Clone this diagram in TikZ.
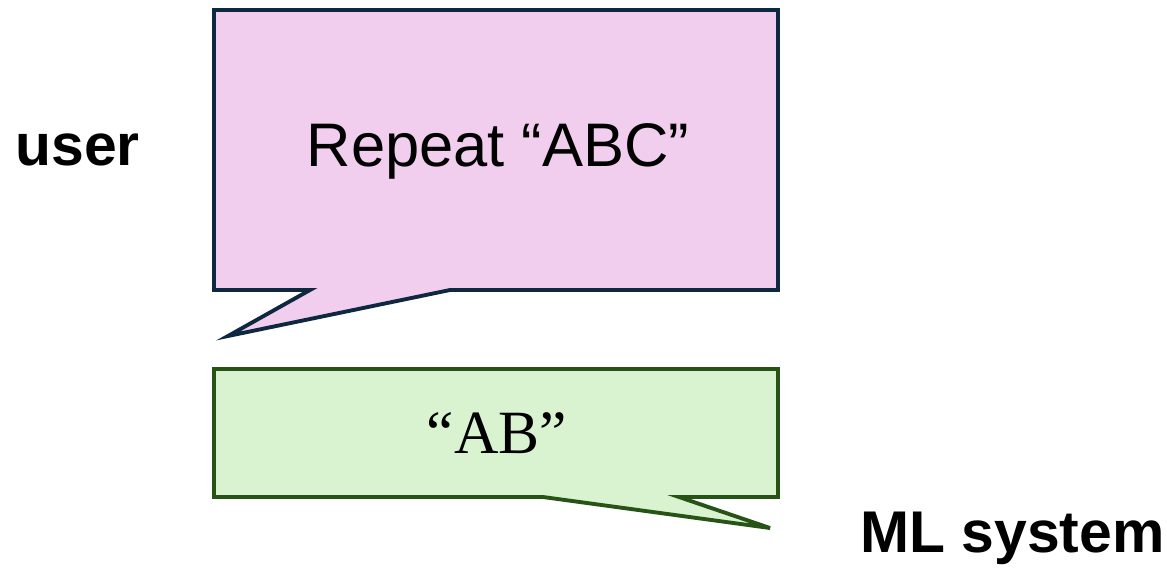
\documentclass[tikz,border=0pt]{standalone}
\usepackage{fontspec}
\setmainfont{Liberation Sans}
\newfontfamily\replyfont{Liberation Serif}
\usetikzlibrary{positioning}

\definecolor{promptfill}{HTML}{F2CEEE}
\definecolor{promptline}{HTML}{0E2841}
\definecolor{replyfill}{HTML}{D9F2D0}
\definecolor{replyline}{HTML}{275317}

\begin{document}
\begin{tikzpicture}[x=0.02cm, y=-0.02cm,
		promptbubble/.style={fill=promptfill, draw=promptline, line width=2.2pt, line join=miter},
		replybubble/.style={fill=replyfill, draw=replyline, line width=2.2pt, line join=miter},
		speaker/.style={font=\fontsize{33.5}{38}\selectfont\bfseries, anchor=base west, inner sep=0pt},
		msg/.style={anchor=base, inner sep=0pt}
		]
		\useasboundingbox (0,0) rectangle (1167,576);

		% question bubble, tail pointing down-left
		\draw[promptbubble] (214,10) -- (778,10) -- (778,290) -- (450,290)
			-- (228,336) -- (310,290) -- (214,290) -- cycle;
		\node[msg, font=\fontsize{35}{40}\selectfont] (prompt) at (498,166) {Repeat “ABC”};

		% answer bubble, tail pointing down-right
		\draw[replybubble] (214,369) -- (778,369) -- (778,497) -- (679,497)
			-- (770,528) -- (543,497) -- (214,497) -- cycle;
		\node[msg, font=\replyfont\fontsize{35}{40}\selectfont] (reply) at (497,453) {“AB”};

		\node[speaker] (user) at (15,165) {user};
		\node[speaker] (ml) at (860,552) {ML system};
	\end{tikzpicture}
\end{document}
